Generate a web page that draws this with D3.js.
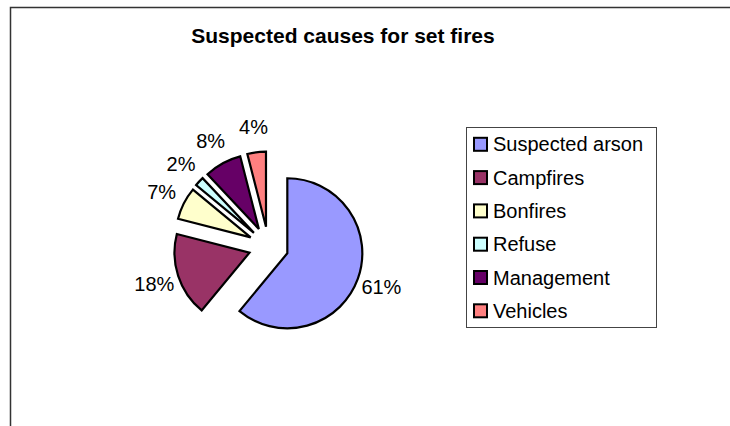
<!DOCTYPE html>
<html>
<head>
<meta charset="utf-8">
<script src="https://cdn.jsdelivr.net/npm/d3@7"></script>
<style>
  body { margin: 0; background: #fff; }
  text { font-family: Arial, "Liberation Sans", sans-serif; }
</style>
</head>
<body>
<div id="chart"></div>
<script>
var categories = ["Suspected arson", "Campfires", "Bonfires", "Refuse", "Management", "Vehicles"];
var values = [61, 18, 7, 2, 8, 4];
var colors = ["#9999FF", "#993366", "#FFFFCC", "#CCFFFF", "#660066", "#FF8080"];
var title = "Suspected causes for set fires";

var width = 730, height = 426;
var cx = 268.5, cy = 246.5, radius = 75, explode = 20, labelR = 100;

var svg = d3.select("#chart")
    .append("svg")
    .attr("width", width)
    .attr("height", height);

// chart area border (runs off the right and bottom)
svg.append("rect")
    .attr("x", 10.5)
    .attr("y", 7.5)
    .attr("width", width + 20)
    .attr("height", height + 20)
    .style("fill", "#fff")
    .style("stroke", "#333")
    .style("stroke-width", 1.5);

svg.append("text")
    .attr("x", 343)
    .attr("y", 43)
    .attr("text-anchor", "middle")
    .style("font-size", "21px")
    .style("font-weight", "bold")
    .style("fill", "#000")
    .text(title);

var color = d3.scaleOrdinal()
    .domain(categories)
    .range(colors);

var pie = d3.pie()
    .sort(null)
    .value(function (d, i) { return values[i]; });

var arcs = pie(categories);

var arc = d3.arc()
    .innerRadius(0)
    .outerRadius(radius);

function offset(d, r) {
    var a = (d.startAngle + d.endAngle) / 2;
    return [Math.sin(a) * r, -Math.cos(a) * r];
}

var pieG = svg.append("g")
    .attr("transform", "translate(" + cx + "," + cy + ")");

pieG.selectAll("path")
    .data(arcs)
    .enter()
    .append("path")
    .attr("d", arc)
    .attr("transform", function (d) {
        var o = offset(d, explode);
        return "translate(" + o[0] + "," + o[1] + ")";
    })
    .style("fill", function (d) { return color(d.data); })
    .style("stroke", "#000")
    .style("stroke-width", 2.2)
    .style("stroke-linejoin", "miter");

var total = d3.sum(values);

pieG.selectAll("text.lbl")
    .data(arcs)
    .enter()
    .append("text")
    .attr("class", "lbl")
    .attr("x", function (d) { return offset(d, explode + labelR)[0]; })
    .attr("y", function (d) { return offset(d, explode + labelR)[1] + 7; })
    .attr("text-anchor", "middle")
    .style("font-size", "20px")
    .style("fill", "#000")
    .text(function (d) { return Math.round(d.value / total * 100) + "%"; });

//////////////////legend
var legend = svg.append("g")
    .attr("transform", "translate(466,127)");

legend.append("rect")
    .attr("x", 0.5)
    .attr("y", 0.5)
    .attr("width", 190)
    .attr("height", 200)
    .style("fill", "#fff")
    .style("stroke", "#444")
    .style("stroke-width", 1);

var rowY = d3.scalePoint()
    .domain(categories)
    .range([17.3, 183.8]);

var item = legend.selectAll("g.item")
    .data(categories)
    .enter()
    .append("g")
    .attr("class", "item")
    .attr("transform", function (d) { return "translate(0," + rowY(d) + ")"; });

item.append("rect")
    .attr("x", 8)
    .attr("y", -6.5)
    .attr("width", 13)
    .attr("height", 13)
    .style("fill", function (d) { return color(d); })
    .style("stroke", "#000")
    .style("stroke-width", 2);

item.append("text")
    .attr("x", 27)
    .attr("y", 7)
    .style("font-size", "20px")
    .style("fill", "#000")
    .text(function (d) { return d; });
</script>
</body>
</html>
